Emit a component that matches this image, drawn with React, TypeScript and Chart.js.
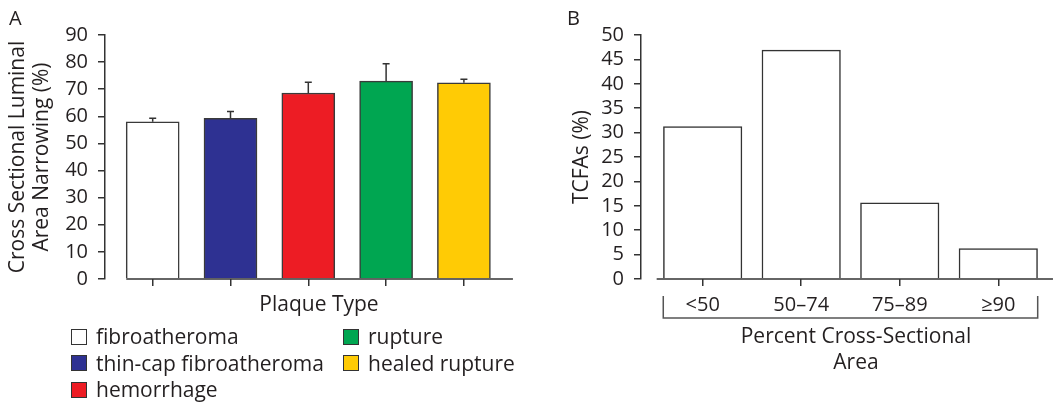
import React, { useEffect, useRef } from "react";
import { Chart, registerables } from "chart.js";

Chart.register(...registerables);

// ---------- Data ----------
const plaqueTypes = [
  "fibroatheroma",
  "thin-cap fibroatheroma",
  "hemorrhage",
  "rupture",
  "healed rupture",
];
const narrowingMeans = [58.0, 59.3, 68.6, 73.0, 72.4];
const narrowingErrors = [1.3, 2.5, 4.0, 6.4, 1.3];
const plaqueColors = ["#ffffff", "#2e3192", "#ed1c24", "#00a651", "#ffcb05"];
const narrowingTicks = [0, 10, 20, 30, 40, 50, 60, 70, 80, 90];

const areaCategories = ["<50", "50–74", "75–89", "≥90"];
const tcfaPercents = [31.25, 46.9, 15.6, 6.25];
const tcfaTicks = [0, 5, 10, 15, 20, 25, 30, 35, 40, 45, 50];

// ---------- Styling ----------
const FONT = "'Open Sans', 'Noto Sans', sans-serif";
const TEXT = "#231f20";
const AXIS = "#333333";

Chart.defaults.font.family = FONT;
Chart.defaults.font.size = 20;
Chart.defaults.color = TEXT;

// ---------- Plugins ----------
const axisLinePlugin = {
  id: "axisLine",
  afterDraw(chart: any, _a: any, opts: any) {
    const { ctx, chartArea } = chart;
    const xs = chart.scales.x;
    ctx.save();
    ctx.strokeStyle = opts.color;
    ctx.lineWidth = opts.width;
    ctx.beginPath();
    ctx.moveTo(xs.getPixelForValue(opts.from), chartArea.bottom);
    ctx.lineTo(xs.getPixelForValue(opts.to), chartArea.bottom);
    ctx.stroke();
    ctx.restore();
  },
};

const errorBarPlugin = {
  id: "errorBars",
  afterDatasetsDraw(chart: any, _a: any, opts: any) {
    const { ctx } = chart;
    const xs = chart.scales.x;
    const ys = chart.scales.y;
    const errs: number[] = opts.errors || [];
    ctx.save();
    ctx.strokeStyle = opts.color;
    ctx.lineWidth = opts.width;
    errs.forEach((e, i) => {
      const v = narrowingMeans[i];
      const x = xs.getPixelForValue(i);
      const y0 = ys.getPixelForValue(v);
      const y1 = ys.getPixelForValue(v + e);
      ctx.beginPath();
      ctx.moveTo(x, y0);
      ctx.lineTo(x, y1);
      ctx.moveTo(x - opts.cap, y1);
      ctx.lineTo(x + opts.cap, y1);
      ctx.stroke();
    });
    ctx.restore();
  },
};

const bracketPlugin = {
  id: "bracket",
  afterDraw(chart: any, _a: any, opts: any) {
    const { ctx, chartArea } = chart;
    const xs = chart.scales.x;
    const x0 = xs.getPixelForValue(opts.from);
    const x1 = xs.getPixelForValue(opts.to);
    const yTop = chartArea.bottom + opts.top;
    const yBot = chartArea.bottom + opts.bottom;
    ctx.save();
    ctx.strokeStyle = opts.color;
    ctx.lineWidth = opts.width;
    ctx.beginPath();
    ctx.moveTo(x0, yTop);
    ctx.lineTo(x0, yBot);
    ctx.lineTo(x1, yBot);
    ctx.lineTo(x1, yTop);
    ctx.stroke();
    ctx.restore();
  },
};

// ---------- Configs ----------
function configA(): any {
  return {
    type: "bar",
    data: {
      datasets: [
        {
          data: narrowingMeans.map((v, i) => ({ x: i, y: v })),
          backgroundColor: plaqueColors,
          borderColor: "#3a3a3a",
          borderWidth: 1.5,
          barThickness: 53,
        },
      ],
    },
    plugins: [axisLinePlugin, errorBarPlugin],
    options: {
      animation: false,
      responsive: true,
      maintainAspectRatio: false,
      layout: { padding: { top: 35, left: 0, right: 27, bottom: 0 } },
      plugins: {
        legend: { display: false },
        tooltip: { enabled: false },
        axisLine: { from: -0.34, to: 4.63, color: AXIS, width: 1.5 },
        errorBars: { errors: narrowingErrors, color: AXIS, width: 1.5, cap: 3.5 },
      },
      scales: {
        x: {
          type: "linear",
          min: -0.613,
          max: 4.888,
          offset: false,
          afterBuildTicks: (s: any) => {
            s.ticks = plaqueTypes.map((_, i) => ({ value: i }));
          },
          afterFit: (s: any) => {
            s.height = 124;
          },
          grid: {
            offset: false,
            drawOnChartArea: false,
            drawTicks: true,
            tickLength: 7,
            color: AXIS,
            lineWidth: 1.5,
          },
          border: { display: false },
          ticks: { display: false },
          title: {
            display: true,
            text: "Plaque Type",
            font: { size: 21, lineHeight: 1.2 },
            padding: { top: 0, bottom: 84.9 },
            color: TEXT,
          },
        },
        y: {
          min: 0,
          max: 90,
          afterBuildTicks: (s: any) => {
            s.ticks = narrowingTicks.map((v) => ({ value: v }));
          },
          afterFit: (s: any) => {
            s.width = 105;
          },
          grid: {
            drawOnChartArea: false,
            drawTicks: true,
            tickLength: 7,
            color: AXIS,
            lineWidth: 1.5,
          },
          border: { display: true, color: AXIS, width: 1.5 },
          ticks: { padding: 10, autoSkip: false, font: { size: 20 }, color: TEXT },
          title: {
            display: true,
            text: ["Cross Sectional Luminal", "Area Narrowing (%)"],
            font: { size: 21, lineHeight: 1.157 },
            padding: { top: 5.85, bottom: 0 },
            color: TEXT,
          },
        },
      },
    },
  };
}

function configB(): any {
  return {
    type: "bar",
    data: {
      datasets: [
        {
          data: tcfaPercents.map((v, i) => ({ x: i, y: v })),
          backgroundColor: "#ffffff",
          borderColor: "#333333",
          borderWidth: 1.5,
          barThickness: 78.5,
        },
      ],
    },
    plugins: [axisLinePlugin, bracketPlugin],
    options: {
      animation: false,
      responsive: true,
      maintainAspectRatio: false,
      layout: { padding: { top: 35, left: 0, right: 19, bottom: 0 } },
      plugins: {
        legend: { display: false },
        tooltip: { enabled: false },
        axisLine: { from: -0.467, to: 3.555, color: AXIS, width: 1.5 },
        bracket: { from: -0.4, to: 3.4, top: 17, bottom: 39, color: "#555555", width: 1.5 },
      },
      scales: {
        x: {
          type: "linear",
          min: -0.626,
          max: 3.738,
          offset: false,
          afterBuildTicks: (s: any) => {
            s.ticks = areaCategories.map((_, i) => ({ value: i }));
          },
          afterFit: (s: any) => {
            s.height = 124;
          },
          grid: {
            offset: false,
            drawOnChartArea: false,
            drawTicks: true,
            tickLength: 7,
            color: AXIS,
            lineWidth: 1.5,
          },
          border: { display: false },
          ticks: {
            padding: 7.4,
            autoSkip: false,
            maxRotation: 0,
            font: { size: 20, lineHeight: 1.2 },
            color: TEXT,
            callback: (v: any) => areaCategories[Math.round(v)] ?? "",
          },
          title: {
            display: true,
            text: ["Percent Cross-Sectional", "Area"],
            font: { size: 21, lineHeight: 1.267 },
            padding: { top: 0, bottom: 26.4 },
            color: TEXT,
          },
        },
        y: {
          min: 0,
          max: 50,
          afterBuildTicks: (s: any) => {
            s.ticks = tcfaTicks.map((v) => ({ value: v }));
          },
          afterFit: (s: any) => {
            s.width = 111;
          },
          grid: {
            drawOnChartArea: false,
            drawTicks: true,
            tickLength: 7,
            color: AXIS,
            lineWidth: 1.5,
          },
          border: { display: true, color: AXIS, width: 1.5 },
          ticks: { padding: 10, autoSkip: false, font: { size: 20 }, color: TEXT },
          title: {
            display: true,
            text: "TCFAs (%)",
            font: { size: 21, lineHeight: 1.2 },
            padding: { top: 39.4, bottom: 0 },
            color: TEXT,
          },
        },
      },
    },
  };
}

function ChartBox({ makeConfig, style }: { makeConfig: () => any; style: React.CSSProperties }) {
  const ref = useRef<HTMLCanvasElement | null>(null);
  useEffect(() => {
    if (!ref.current) return;
    const chart = new Chart(ref.current, makeConfig());
    return () => chart.destroy();
  }, [makeConfig]);
  return (
    <div style={{ position: "absolute", ...style }}>
      <canvas ref={ref} />
    </div>
  );
}

const legendCols = [71, 343];
const legendBaselines = [345, 371.5, 398];

export default function App() {
  const textStyle: React.CSSProperties = {
    position: "absolute",
    fontFamily: FONT,
    fontSize: 21,
    lineHeight: "21px",
    color: TEXT,
    whiteSpace: "nowrap",
  };
  return (
    <div
      style={{
        position: "absolute",
        left: 0,
        top: 0,
        width: 1059,
        height: 403,
        overflow: "hidden",
        background: "#ffffff",
      }}
    >
      <ChartBox makeConfig={configA} style={{ left: 0, top: 0, width: 560, height: 403 }} />
      <ChartBox makeConfig={configB} style={{ left: 530, top: 0, width: 560, height: 403 }} />
      <div style={{ ...textStyle, left: 9, top: 8, fontSize: 20, lineHeight: "20px" }}>A</div>
      <div style={{ ...textStyle, left: 567, top: 8, fontSize: 20, lineHeight: "20px" }}>B</div>
      {plaqueTypes.map((name, i) => {
        const col = i < 3 ? 0 : 1;
        const row = i < 3 ? i : i - 3;
        const base = legendBaselines[row];
        const x = legendCols[col];
        return (
          <React.Fragment key={name}>
            <div
              style={{
                position: "absolute",
                left: x,
                top: base - 16.5,
                width: 16,
                height: 16,
                boxSizing: "border-box",
                border: "1.5px solid #333333",
                background: plaqueColors[i],
              }}
            />
            <div style={{ ...textStyle, left: x + 25, top: base - 18.65 }}>{name}</div>
          </React.Fragment>
        );
      })}
    </div>
  );
}
